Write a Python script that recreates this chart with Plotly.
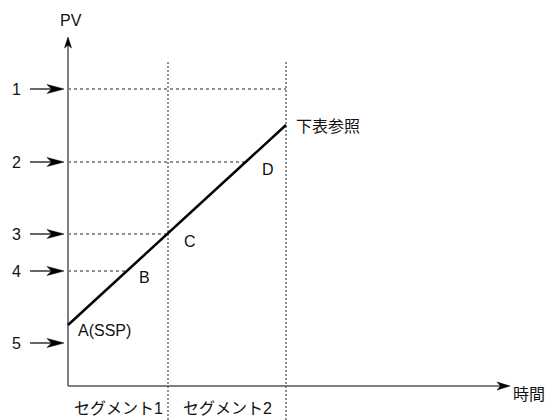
import plotly.graph_objects as go

# ---------------- data (time units / PV units of the schematic) ----------------
segment_bounds = [0, 100, 218]          # start, end of segment 1, end of segment 2
segment_labels = ["セグメント1", "セグメント2"]
pv_levels = [297, 224, 152, 115, 43]     # reference PV levels 1..5
level_labels = ["1", "2", "3", "4", "5"]
ramp_t = [0, 218]                        # program ramp (time)
ramp_pv = [61, 261]                      # program ramp (PV)
time_axis_end = 442
pv_axis_end = 349
guide_top = 324
point_labels = ["A(SSP)", "B", "C", "D"]
end_label = "下表参照"
x_title = "時間"
y_title = "PV"

FONT = "Arial, 'Liberation Sans', 'Noto Sans CJK JP', sans-serif"
# the page body has an 8px margin, so the figure is 548x412 placed at (8, 8)
X_RANGE = [-60, 488]
Y_RANGE = [-34, 378]

fig = go.Figure()
shapes = []
annotations = []


def ramp_time_at(pv):
    slope = (ramp_pv[1] - ramp_pv[0]) / (ramp_t[1] - ramp_t[0])
    return ramp_t[0] + (pv - ramp_pv[0]) / slope


def ramp_pv_at(t):
    slope = (ramp_pv[1] - ramp_pv[0]) / (ramp_t[1] - ramp_t[0])
    return ramp_pv[0] + (t - ramp_t[0]) * slope


def head(tx, ty, dx, dy, length, half, notch, color="black"):
    px, py = -dy, dx
    bx, by = tx - length * dx, ty - length * dy
    nx, ny = tx - (length - notch) * dx, ty - (length - notch) * dy
    path = (f"M{tx},{ty} L{bx + half * px},{by + half * py} L{nx},{ny} "
            f"L{bx - half * px},{by - half * py} Z")
    shapes.append(dict(type="path", path=path, xref="x", yref="y",
                       fillcolor=color, line=dict(color=color, width=0.5), layer="above"))


# vertical dotted segment guides
for t in segment_bounds[1:]:
    fig.add_trace(go.Scatter(x=[t, t], y=[guide_top, Y_RANGE[0]], mode="lines",
                             line=dict(color="#222222", width=1, dash="2px,2px"),
                             hoverinfo="skip", showlegend=False))

# horizontal dashed level lines (to where they meet the ramp)
for pv in pv_levels:
    t_end = min(max(ramp_time_at(pv), segment_bounds[0]), segment_bounds[-1])
    if t_end > segment_bounds[0]:
        fig.add_trace(go.Scatter(x=[segment_bounds[0], t_end], y=[pv, pv], mode="lines",
                                 line=dict(color="#222222", width=1, dash="3px,3px"),
                                 hoverinfo="skip", showlegend=False))

# axes
fig.add_trace(go.Scatter(x=[0, 0], y=[0, pv_axis_end - 8], mode="lines",
                         line=dict(color="#808080", width=2), hoverinfo="skip", showlegend=False))
fig.add_trace(go.Scatter(x=[0, time_axis_end - 8], y=[0, 0], mode="lines",
                         line=dict(color="#555555", width=1.5), hoverinfo="skip", showlegend=False))
head(0, pv_axis_end, 0, 1, 11, 3.5, 3)
head(time_axis_end, 0, 1, 0, 13, 4, 3.5)

# level arrows on the left
for pv, lab in zip(pv_levels, level_labels):
    fig.add_trace(go.Scatter(x=[-38, -12], y=[pv, pv], mode="lines",
                             line=dict(color="black", width=1.2), hoverinfo="skip", showlegend=False))
    head(-4, pv, 1, 0, 17, 4.5, 4.5)
    annotations.append(dict(x=-52, y=pv, text=lab, showarrow=False,
                            xanchor="center", yanchor="middle"))

# ramp line
fig.add_trace(go.Scatter(x=ramp_t, y=ramp_pv, mode="lines",
                         line=dict(color="black", width=2.5), hoverinfo="skip", showlegend=False))

# point labels A..D
pts = [
    (ramp_t[0], ramp_pv[0]),
    (ramp_time_at(pv_levels[3]), pv_levels[3]),
    (segment_bounds[1], ramp_pv_at(segment_bounds[1])),
    (ramp_time_at(pv_levels[1]), pv_levels[1]),
]
offsets = [(8, -5, "left"), (18, -6, "center"), (22, -8, "center"), (22, -7, "center")]
for (t, pv), lab, (xs, ys, xa) in zip(pts, point_labels, offsets):
    annotations.append(dict(x=t, y=pv, text=lab, showarrow=False, xanchor=xa,
                            yanchor="middle", xshift=xs, yshift=ys))
annotations.append(dict(x=ramp_t[1], y=ramp_pv[1], text=end_label, showarrow=False,
                        xanchor="left", yanchor="middle", xshift=8, yshift=-1))

# axis titles
annotations.append(dict(x=0, y=pv_axis_end, text=y_title, showarrow=False,
                        xanchor="center", yanchor="middle", xshift=3, yshift=17))
annotations.append(dict(x=time_axis_end, y=0, text=x_title, showarrow=False,
                        xanchor="left", yanchor="middle", xshift=2, yshift=-8,
                        borderpad=0))

# segment labels
for i, lab in enumerate(segment_labels):
    mid = (segment_bounds[i] + segment_bounds[i + 1]) / 2
    annotations.append(dict(x=mid, y=0, text=lab, showarrow=False,
                            xanchor="center", yanchor="middle", xshift=0, yshift=-22))

fig.update_layout(
    width=548, height=412, autosize=False,
    margin=dict(l=0, r=0, t=0, b=0),
    paper_bgcolor="white", plot_bgcolor="white",
    font=dict(family=FONT, size=16, color="#111111"),
    xaxis=dict(range=X_RANGE, visible=False, fixedrange=True),
    yaxis=dict(range=Y_RANGE, visible=False, fixedrange=True),
    shapes=shapes, annotations=annotations, showlegend=False,
)

fig.write_html("out.html")
